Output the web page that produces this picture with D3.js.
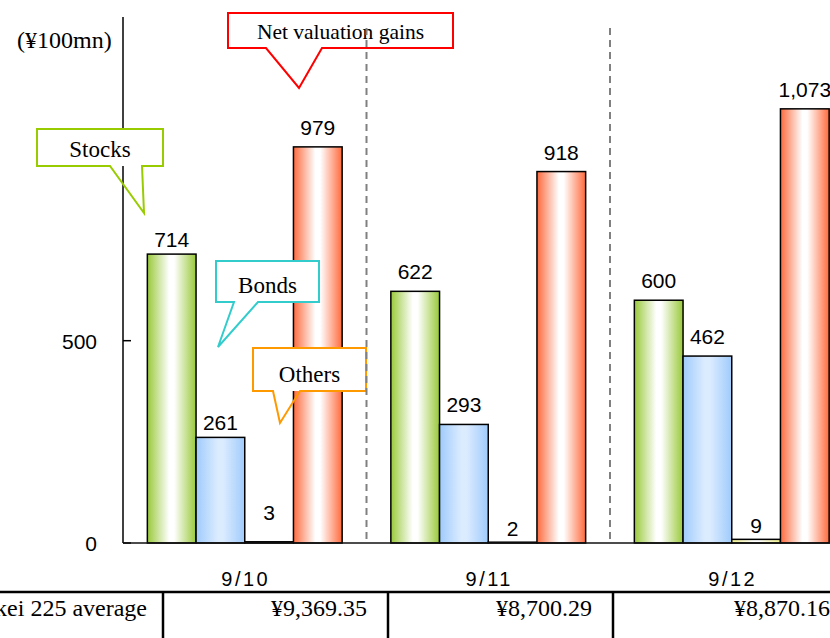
<!DOCTYPE html>
<html>
<head>
<meta charset="utf-8">
<script src="https://cdn.jsdelivr.net/npm/d3@7/dist/d3.min.js"></script>
<style>
  html, body { margin: 0; padding: 0; background: #fff; }
  svg { display: block; }
</style>
</head>
<body>
<svg id="chart" width="830" height="638"></svg>
<script>
// ---- data ----
const categories = ["9/10", "9/11", "9/12"];
const seriesNames = ["Stocks", "Bonds", "Others", "Net valuation gains"];
const stocks = [714, 622, 600];
const bonds = [261, 293, 462];
const others = [3, 2, 9];
const netGains = [979, 918, 1073];
const yTicks = [0, 500];
const tableLabel = "Nikkei 225 average";
const nikkeiAverage = ["¥9,369.35", "¥8,700.29", "¥8,870.16"];
const unitLabel = "(¥100mn)";

const seriesValues = [stocks, bonds, others, netGains];

// ---- layout ----
const W = 830, H = 638;
const plot = { left: 123, top: 17, bottom: 543, right: 853.5 };
const svg = d3.select("#chart");

const x0 = d3.scaleBand().domain(categories).range([plot.left, plot.right]).padding(0);
const x1 = d3.scaleBand().domain(seriesNames).range([0, x0.bandwidth()])
  .paddingInner(0).paddingOuter(0.5);
const y = d3.scaleLinear().domain([0, 1300]).range([plot.bottom, plot.top]);

const edgeColors = {
  "Stocks": "#99c93a",
  "Bonds": "#9fcbfb",
  "Others": "#eeee8a",
  "Net valuation gains": "#ff6a3d"
};
const midColors = {
  "Stocks": "#ffffff",
  "Bonds": "#dcecff",
  "Others": "#ffffff",
  "Net valuation gains": "#ffffff"
};

// bar gradients: coloured edges fading to a light centre
const defs = svg.append("defs");
seriesNames.forEach((s, k) => {
  const g = defs.append("linearGradient").attr("id", "grad" + k)
    .attr("x1", "0").attr("x2", "1").attr("y1", "0").attr("y2", "0");
  g.append("stop").attr("offset", "0%").attr("stop-color", edgeColors[s]);
  g.append("stop").attr("offset", "45%").attr("stop-color", midColors[s]);
  g.append("stop").attr("offset", "55%").attr("stop-color", midColors[s]);
  g.append("stop").attr("offset", "100%").attr("stop-color", edgeColors[s]);
});

const numFont = "'Liberation Sans', Arial, sans-serif";
const serifFont = "'Liberation Serif', 'Times New Roman', serif";

// ---- y axis ----
const yAxis = svg.append("g");
yAxis.append("line")
  .attr("x1", plot.left).attr("x2", plot.left)
  .attr("y1", plot.top).attr("y2", plot.bottom)
  .attr("stroke", "#000").attr("stroke-width", 1.5);
yAxis.selectAll("line.tick").data(yTicks).join("line")
  .attr("class", "tick")
  .attr("x1", plot.left).attr("x2", plot.left + 8)
  .attr("y1", d => y(d)).attr("y2", d => y(d))
  .attr("stroke", "#000").attr("stroke-width", 1.5);
yAxis.selectAll("text").data(yTicks).join("text")
  .attr("x", plot.left - 26).attr("y", d => y(d) + 8)
  .attr("text-anchor", "end")
  .attr("font-family", numFont).attr("font-size", 21)
  .text(d => d3.format(",")(d));

svg.append("text")
  .attr("x", 17).attr("y", 48)
  .attr("font-family", serifFont).attr("font-size", 24)
  .text(unitLabel);

// ---- bars ----
const barData = [];
categories.forEach((c, i) => {
  seriesNames.forEach((s, k) => {
    barData.push({ cat: c, series: s, k, i, value: seriesValues[k][i] });
  });
});

svg.append("g").selectAll("rect").data(barData).join("rect")
  .attr("x", d => x0(d.cat) + x1(d.series))
  .attr("width", x1.bandwidth())
  .attr("y", d => y(d.value))
  .attr("height", d => y(0) - y(d.value))
  .attr("fill", d => `url(#grad${d.k})`)
  .attr("stroke", "#000").attr("stroke-width", 1.5);

// x axis baseline
svg.append("line")
  .attr("x1", plot.left).attr("x2", W)
  .attr("y1", plot.bottom).attr("y2", plot.bottom)
  .attr("stroke", "#111").attr("stroke-width", 1.5);

// value labels
const labelGap = (d) => {
  if (d.k === 2 && d.i === 0) return 22;
  if (d.k === 2) return 6;
  if (d.i === 0 && d.k < 2) return 7;
  return 12;
};
svg.append("g").selectAll("text").data(barData).join("text")
  .attr("x", d => x0(d.cat) + x1(d.series) + x1.bandwidth() / 2)
  .attr("y", d => y(d.value) - labelGap(d))
  .attr("text-anchor", "middle")
  .attr("font-family", numFont).attr("font-size", 21)
  .text(d => d3.format(",")(d.value));

// category labels
svg.append("g").selectAll("text").data(categories).join("text")
  .attr("x", d => x0(d) + x0.bandwidth() / 2 + 1)
  .attr("y", 586)
  .attr("text-anchor", "middle")
  .attr("font-family", numFont).attr("font-size", 20)
  .attr("letter-spacing", 2.5)
  .text(d => d);

// ---- callouts ----
const callouts = [
  { text: "Stocks", size: 23, color: "#99cc00", box: [37, 129, 163, 166], tail: [110, 142], tip: [144, 213] },
  { text: "Net valuation gains", size: 21.5, color: "#ff0000", box: [228, 13, 453, 48], tail: [266, 322], tip: [299, 88] },
  { text: "Bonds", size: 23, color: "#33cccc", box: [216, 261, 319, 302], tail: [234, 258], tip: [218, 347] },
  { text: "Others", size: 23, color: "#ff9900", box: [253, 348, 366, 391], tail: [273, 300], tip: [280, 423] }
];

const cg = svg.append("g");
callouts.forEach(c => {
  const [bx0, by0, bx1, by1] = c.box;
  cg.append("rect")
    .attr("x", bx0).attr("y", by0).attr("width", bx1 - bx0).attr("height", by1 - by0)
    .attr("fill", "#fff");
  const p = d3.path();
  p.moveTo(bx0, by0);
  p.lineTo(bx1, by0);
  p.lineTo(bx1, by1);
  p.lineTo(c.tail[1], by1);
  p.lineTo(c.tip[0], c.tip[1]);
  p.lineTo(c.tail[0], by1);
  p.lineTo(bx0, by1);
  p.closePath();
  cg.append("path").attr("d", p.toString())
    .attr("fill", "none").attr("stroke", c.color).attr("stroke-width", 2)
    .attr("stroke-linejoin", "miter");
  cg.append("text")
    .attr("x", (bx0 + bx1) / 2).attr("y", by1 - 9)
    .attr("text-anchor", "middle")
    .attr("font-family", serifFont).attr("font-size", c.size)
    .text(c.text);
});

// dashed separators between dates
svg.append("g").selectAll("line").data(categories.slice(1)).join("line")
  .attr("x1", d => x0(d)).attr("x2", d => x0(d))
  .attr("y1", 28).attr("y2", plot.bottom)
  .attr("stroke", "#808080").attr("stroke-width", 2)
  .attr("stroke-dasharray", "7,5");

// ---- table ----
const colEdges = [163, 388, 613, 851];
const tg = svg.append("g");
tg.append("line")
  .attr("x1", 0).attr("x2", W).attr("y1", 592).attr("y2", 592)
  .attr("stroke", "#000").attr("stroke-width", 2.5);
tg.selectAll("line.col").data(colEdges.slice(0, 3)).join("line")
  .attr("class", "col")
  .attr("x1", d => d).attr("x2", d => d).attr("y1", 592).attr("y2", H)
  .attr("stroke", "#000").attr("stroke-width", 2.5);
tg.append("text")
  .attr("x", 147).attr("y", 616)
  .attr("text-anchor", "end")
  .attr("font-family", serifFont).attr("font-size", 24)
  .text(tableLabel);
tg.selectAll("text.val").data(nikkeiAverage).join("text")
  .attr("class", "val")
  .attr("x", (d, i) => colEdges[i + 1] - 21).attr("y", 616)
  .attr("text-anchor", "end")
  .attr("font-family", serifFont).attr("font-size", 24)
  .text(d => d);
</script>
</body>
</html>
